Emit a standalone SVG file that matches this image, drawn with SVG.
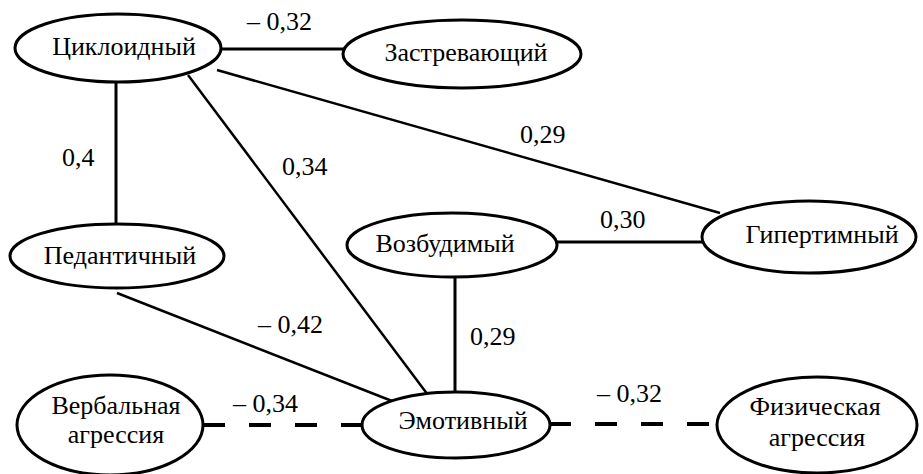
<svg xmlns="http://www.w3.org/2000/svg" width="923" height="474" viewBox="0 0 923 474">
<style>
.node ellipse{fill:#fff;stroke:#000;stroke-width:3}
.edges line{stroke:#000;stroke-width:3;fill:none}
.edges line.dash{stroke-width:4;stroke-dasharray:22 24}
.edges line.thin{stroke-width:2.5}
</style>
<rect width="923" height="474" fill="#fff"/>
<g id="connectors" class="edges">
<line x1="221" y1="49" x2="344" y2="49"/>
<line x1="116" y1="82" x2="116" y2="225"/>
<line class="thin" x1="217" y1="70" x2="720" y2="213"/>
<line class="thin" x1="188" y1="75" x2="428" y2="395"/>
<line class="thin" x1="117" y1="293" x2="392" y2="401"/>
<line x1="556" y1="242" x2="703" y2="242"/>
<line x1="455" y1="276" x2="455" y2="393"/>
<line class="dash" x1="203" y1="425" x2="364" y2="425"/>
<line class="dash" x1="549" y1="424" x2="719" y2="424"/>
</g>
<g id="labels">
<text style="font-family:'Liberation Serif','Times New Roman',serif !important;font-size:26px" x="247" y="30">– 0,32</text>
<text style="font-family:'Liberation Serif','Times New Roman',serif !important;font-size:26px" x="62" y="166">0,4</text>
<text style="font-family:'Liberation Serif','Times New Roman',serif !important;font-size:26px" x="282" y="175">0,34</text>
<text style="font-family:'Liberation Serif','Times New Roman',serif !important;font-size:26px" x="520" y="143">0,29</text>
<text style="font-family:'Liberation Serif','Times New Roman',serif !important;font-size:26px" x="600" y="228">0,30</text>
<text style="font-family:'Liberation Serif','Times New Roman',serif !important;font-size:26px" x="258" y="333">– 0,42</text>
<text style="font-family:'Liberation Serif','Times New Roman',serif !important;font-size:26px" x="470" y="345">0,29</text>
<text style="font-family:'Liberation Serif','Times New Roman',serif !important;font-size:26px" x="233" y="412">– 0,34</text>
<text style="font-family:'Liberation Serif','Times New Roman',serif !important;font-size:26px" x="597" y="402">– 0,32</text>
</g>
<g id="n-cycloid" class="node"><ellipse cx="118" cy="48" rx="103" ry="34"/><text style="font-family:'Liberation Serif','Times New Roman',serif !important;font-size:26px" text-anchor="middle" x="124" y="55">Циклоидный</text></g>
<g id="n-stuck" class="node"><ellipse cx="462" cy="54" rx="119" ry="34"/><text style="font-family:'Liberation Serif','Times New Roman',serif !important;font-size:26px" text-anchor="middle" x="466" y="61">Застревающий</text></g>
<g id="n-pedant" class="node"><ellipse cx="117" cy="256" rx="107" ry="32"/><text style="font-family:'Liberation Serif','Times New Roman',serif !important;font-size:26px" text-anchor="middle" x="120" y="264">Педантичный</text></g>
<g id="n-excit" class="node"><ellipse cx="452" cy="245" rx="105" ry="32"/><text style="font-family:'Liberation Serif','Times New Roman',serif !important;font-size:26px" text-anchor="middle" x="445" y="252">Возбудимый</text></g>
<g id="n-hyper" class="node"><ellipse cx="809" cy="237" rx="107" ry="36"/><text style="font-family:'Liberation Serif','Times New Roman',serif !important;font-size:26px" text-anchor="middle" x="822" y="243">Гипертимный</text></g>
<g id="n-emot" class="node"><ellipse cx="456" cy="425" rx="94" ry="33"/><text style="font-family:'Liberation Serif','Times New Roman',serif !important;font-size:26px" text-anchor="middle" x="463" y="429">Эмотивный</text></g>
<g id="n-verbal" class="node"><ellipse cx="110" cy="425" rx="93" ry="50"/><text style="font-family:'Liberation Serif','Times New Roman',serif !important;font-size:26px" text-anchor="middle" x="116" y="414">Вербальная</text><text style="font-family:'Liberation Serif','Times New Roman',serif !important;font-size:26px" text-anchor="middle" x="116" y="443">агрессия</text></g>
<g id="n-phys" class="node"><ellipse cx="817" cy="425" rx="100" ry="48"/><text style="font-family:'Liberation Serif','Times New Roman',serif !important;font-size:26px" text-anchor="middle" x="815" y="415">Физическая</text><text style="font-family:'Liberation Serif','Times New Roman',serif !important;font-size:26px" text-anchor="middle" x="817" y="446">агрессия</text></g>
</svg>
